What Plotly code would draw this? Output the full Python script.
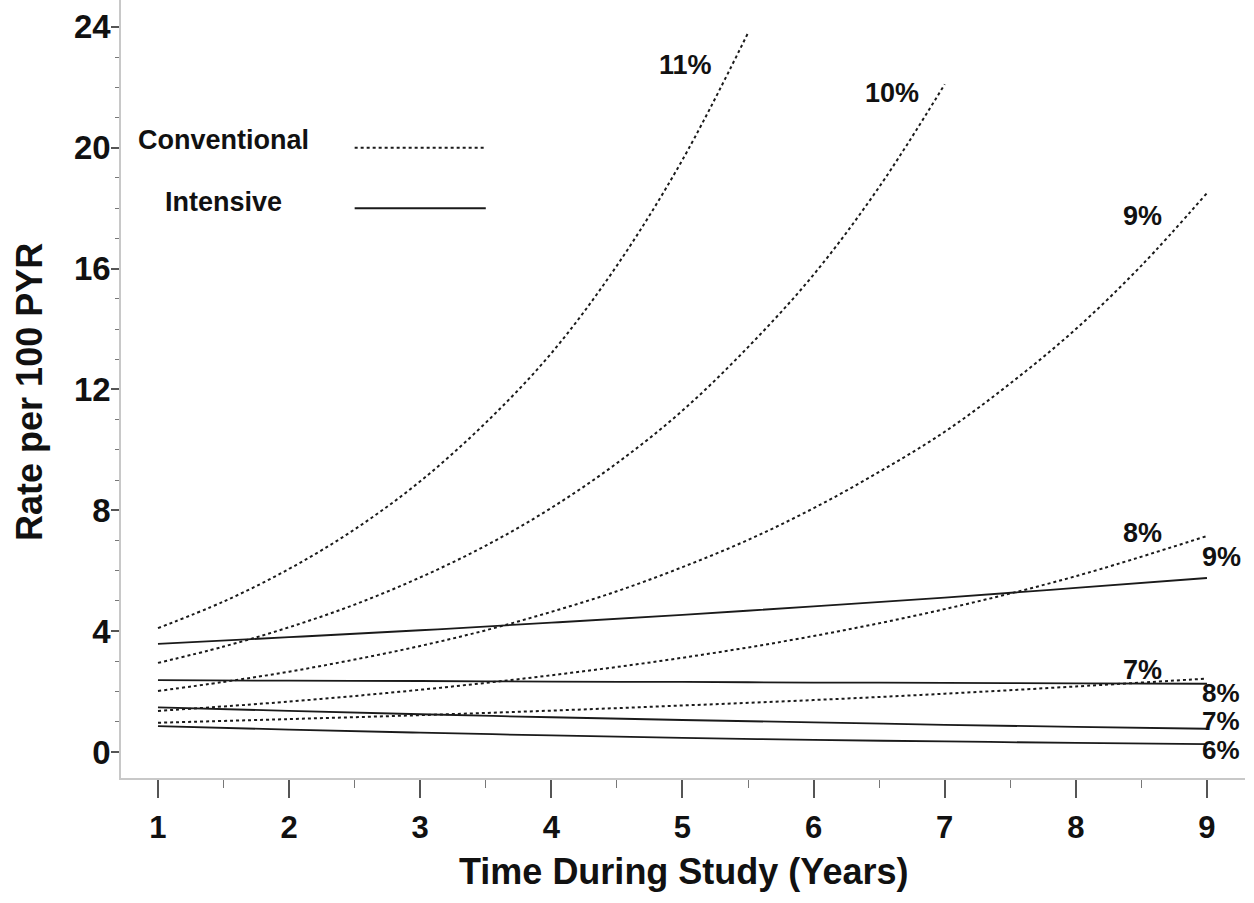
import plotly.graph_objects as go

# ---- data ----
half_years_55 = [1, 1.5, 2, 2.5, 3, 3.5, 4, 4.5, 5, 5.5]
half_years_7 = [1, 1.5, 2, 2.5, 3, 3.5, 4, 4.5, 5, 5.5, 6, 6.5, 7]
half_years_9 = [1, 1.5, 2, 2.5, 3, 3.5, 4, 4.5, 5, 5.5, 6, 6.5, 7, 7.5, 8, 8.5, 9]
years = [1, 2, 3, 4, 5, 6, 7, 8, 9]

conv_11 = [4.1, 4.98, 6.06, 7.37, 8.96, 10.9, 13.2, 16.1, 19.6, 23.8]
conv_10 = [2.95, 3.49, 4.13, 4.88, 5.78, 6.83, 8.08, 9.56, 11.3, 13.4, 15.8, 18.7, 22.1]
conv_9 = [2.02, 2.32, 2.66, 3.06, 3.51, 4.03, 4.64, 5.32, 6.12, 7.02, 8.07, 9.27, 10.6, 12.2, 14.0, 16.1, 18.5]
conv_8 = [1.36, 1.67, 2.06, 2.54, 3.12, 3.84, 4.73, 5.82, 7.15]
conv_7 = [0.97, 1.09, 1.22, 1.37, 1.54, 1.72, 1.93, 2.17, 2.43]

int_9 = [3.58, 3.80, 4.03, 4.28, 4.54, 4.82, 5.11, 5.43, 5.76]
int_8 = [2.38, 2.36, 2.35, 2.33, 2.32, 2.30, 2.29, 2.27, 2.26]
int_7 = [1.48, 1.36, 1.25, 1.15, 1.06, 0.98, 0.90, 0.83, 0.77]
int_6 = [0.86, 0.74, 0.64, 0.55, 0.47, 0.40, 0.35, 0.30, 0.26]

x_ticks = [1, 2, 3, 4, 5, 6, 7, 8, 9]
y_ticks = [0, 4, 8, 12, 16, 20, 24]

# curve labels: (text, x, y, size)
labels = [
    ("11%", 5.02, 22.75, 27), ("10%", 6.6, 21.8, 27), ("9%", 8.51, 17.75, 27),
    ("8%", 8.51, 7.25, 27), ("9%", 9.11, 6.45, 27), ("7%", 8.51, 2.72, 27),
    ("8%", 9.11, 1.97, 26), ("7%", 9.11, 1.02, 26), ("6%", 9.11, 0.07, 26),
]

FONT = "Liberation Sans, Arial, Helvetica, sans-serif"
INK = "#1a1a1a"

fig = go.Figure()

conv = [(half_years_55, conv_11), (half_years_7, conv_10), (half_years_9, conv_9),
        (years, conv_8), (years, conv_7)]
for xs, ys in conv:
    fig.add_trace(go.Scatter(x=xs, y=ys, mode="lines", line_shape="spline",
                             line=dict(color=INK, width=2, dash="dot"),
                             showlegend=False, hoverinfo="skip"))
for ys in [int_9, int_8, int_7, int_6]:
    fig.add_trace(go.Scatter(x=years, y=ys, mode="lines", line_shape="spline",
                             line=dict(color=INK, width=1.8),
                             showlegend=False, hoverinfo="skip"))

for t, x, y, s in labels:
    fig.add_annotation(x=x, y=y, text=t, showarrow=False, xanchor="center", yanchor="middle",
                       font=dict(family=FONT, size=s, color="#111", weight="bold"))

# legend (drawn inside the plot)
fig.add_annotation(x=1.5, y=20.25, text="Conventional", showarrow=False,
                   font=dict(family=FONT, size=27, color="#111", weight="bold"))
fig.add_annotation(x=1.5, y=18.2, text="Intensive", showarrow=False,
                   font=dict(family=FONT, size=27, color="#111", weight="bold"))
fig.add_shape(type="line", x0=2.5, x1=3.5, y0=20.0, y1=20.0, xref="x", yref="y",
              line=dict(color=INK, width=2, dash="dot"))
fig.add_shape(type="line", x0=2.5, x1=3.5, y0=18.0, y1=18.0, xref="x", yref="y",
              line=dict(color=INK, width=2))

# axis titles
fig.add_annotation(xref="paper", yref="paper", x=0.5, y=-0.12, yanchor="middle",
                   text="Time During Study (Years)", showarrow=False,
                   font=dict(family=FONT, size=36, color="#111", weight="bold"))
fig.add_annotation(xref="paper", yref="paper", x=-0.082, y=0.496, xanchor="center",
                   yanchor="middle", textangle=-90,
                   text="Rate per 100 PYR", showarrow=False,
                   font=dict(family=FONT, size=36, color="#111", weight="bold"))

fig.update_xaxes(range=[0.718, 9.29], tickvals=x_ticks, ticktext=[str(v) for v in x_ticks],
                 showgrid=False, zeroline=False, showline=True, linecolor="#c8c8c8",
                 linewidth=1.5, ticks="outside", ticklen=18, tickwidth=1.5, tickcolor="#555",
                 ticklabelstandoff=3,
                 tickfont=dict(family=FONT, size=31, color="#111", weight="bold"),
                 minor=dict(dtick=0.5, tick0=1, ticks="outside", ticklen=8, tickwidth=1.2,
                            tickcolor="#777", showgrid=False))
fig.update_yaxes(range=[-0.86, 24.89], tickvals=y_ticks, ticktext=[str(v) for v in y_ticks],
                 showgrid=False, zeroline=False, showline=True, linecolor="#c8c8c8",
                 linewidth=1.5, ticks="outside", ticklen=8, tickwidth=1.5, tickcolor="#555",
                 ticklabelstandoff=-6,
                 tickfont=dict(family=FONT, size=33, color="#111", weight="bold"),
                 minor=dict(dtick=1, tick0=0, ticks="outside", ticklen=4, tickwidth=1.2,
                            tickcolor="#777", showgrid=False))

fig.update_layout(width=1254, height=903, margin=dict(l=121, r=9, t=0, b=125),
                  paper_bgcolor="white", plot_bgcolor="white",
                  font=dict(family=FONT, color="#111"))

fig.write_html("out.html", config={"displayModeBar": False},
               post_script="document.body.style.margin='0px';")
